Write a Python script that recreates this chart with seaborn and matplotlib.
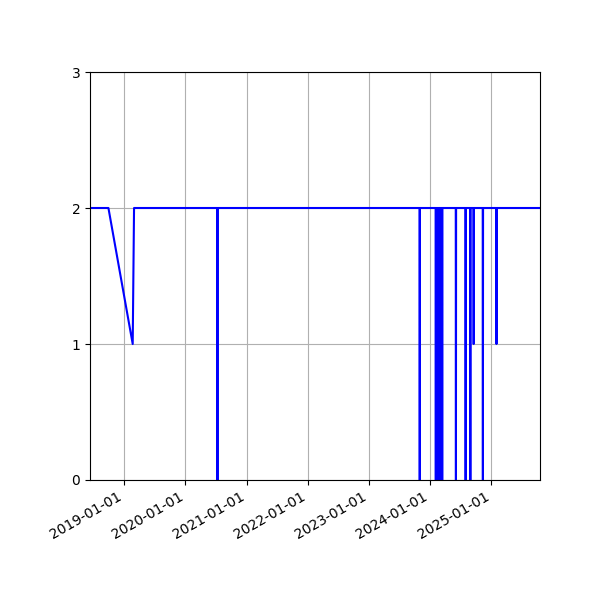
import pandas as pd
import seaborn as sns
import matplotlib

matplotlib.use('Agg')
import matplotlib.pyplot as plt
import matplotlib.dates as mdates

# okunan degerler (tarih, deger)
dates = ["2018-06-10", "2018-09-28", "2019-02-20", "2019-02-28",
         "2020-07-09", "2020-07-10", "2020-07-11",
         "2023-10-30", "2023-10-31", "2023-11-01",
         "2024-02-03", "2024-02-04", "2024-02-05",
         "2024-02-09", "2024-02-10", "2024-02-11",
         "2024-02-15", "2024-02-16", "2024-02-17",
         "2024-02-21", "2024-02-22", "2024-02-23",
         "2024-02-29", "2024-03-01", "2024-03-02",
         "2024-03-06", "2024-03-07", "2024-03-08",
         "2024-03-12", "2024-03-13", "2024-03-14",
         "2024-06-02", "2024-06-03", "2024-06-04",
         "2024-07-30", "2024-07-31", "2024-08-01",
         "2024-08-27", "2024-08-28", "2024-08-29",
         "2024-09-16", "2024-09-17", "2024-09-18",
         "2024-11-10", "2024-11-11", "2024-11-12",
         "2025-01-30", "2025-01-31", "2025-02-01",
         "2025-10-18"]
values = [2, 2, 1, 2,
          2, 0, 2,
          2, 0, 2,
          2, 0, 2,
          2, 0, 2,
          2, 0, 2,
          2, 0, 2,
          2, 0, 2,
          2, 0, 2,
          2, 0, 2,
          2, 0, 2,
          2, 0, 2,
          2, 0, 2,
          2, 1, 2,
          2, 0, 2,
          2, 1, 2,
          2]
y_ticks = [0, 1, 2, 3]

df = pd.DataFrame({"date": pd.to_datetime(dates), "value": values})

fig, ax = plt.subplots(figsize=(6, 6), dpi=100)
sns.lineplot(data=df, x="date", y="value", color="blue", linewidth=1.5,
             estimator=None, ax=ax)

ax.set_xlim(df["date"].min(), df["date"].max())
ax.set_ylim(0, 3)
ax.set_yticks(y_ticks)
ax.xaxis.set_major_locator(mdates.YearLocator())
ax.xaxis.set_major_formatter(mdates.DateFormatter("%Y-%m-%d"))
ax.set_xlabel("")
ax.set_ylabel("")
ax.grid(True)
fig.autofmt_xdate()
plt.subplots_adjust(left=0.15, right=0.9, top=0.88, bottom=0.2)

plt.savefig("out.png")
